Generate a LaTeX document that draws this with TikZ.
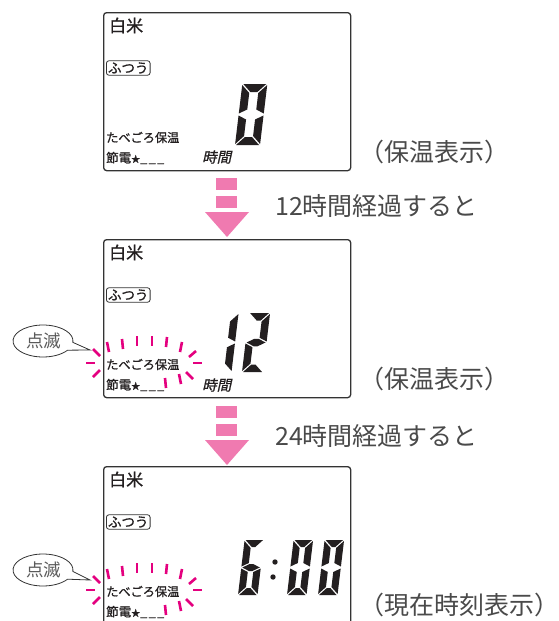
\documentclass[tikz,border=0pt]{standalone}
\usepackage{fontspec}
\setmainfont{Noto Sans CJK JP}
\newfontfamily\jplcd[FakeBold=0.9]{Noto Sans CJK JP}
\newfontfamily\jpslant[FakeSlant=0.22,FakeBold=0.9]{Noto Sans CJK JP}
\definecolor{lcdink}{HTML}{231F20}
\definecolor{lcdline}{HTML}{333333}
\definecolor{arrowpink}{RGB}{240,122,176}
\definecolor{blinkpink}{HTML}{E4007F}
\definecolor{outgray}{HTML}{4A4A4A}
\definecolor{bubbletext}{HTML}{5A5A5A}
% seven-segment pieces (local coordinates, y upward)
\newcommand\lcdsega{\fill[lcdink] ({\dG},{\dH}) -- ({\dW-\dG},{\dH}) -- ({\dW-\dT-\dG},{\dH-\dT}) -- ({\dT+\dG},{\dH-\dT}) -- cycle;}
\newcommand\lcdsegd{\fill[lcdink] ({\dG},0) -- ({\dW-\dG},0) -- ({\dW-\dT-\dG},{\dT}) -- ({\dT+\dG},{\dT}) -- cycle;}
\newcommand\lcdsegf{\fill[lcdink] (0,{\dH-\dG}) -- ({\dT},{\dH-\dT-\dG}) -- ({\dT},{\dH/2+\dT/2+\dG}) -- (0,{\dH/2+\dG}) -- cycle;}
\newcommand\lcdsege{\fill[lcdink] (0,{\dH/2-\dG}) -- ({\dT},{\dH/2-\dT/2-\dG}) -- ({\dT},{\dT+\dG}) -- (0,{\dG}) -- cycle;}
\newcommand\lcdsegb{\fill[lcdink] ({\dW},{\dH-\dG}) -- ({\dW-\dT},{\dH-\dT-\dG}) -- ({\dW-\dT},{\dH/2+\dT/2+\dG}) -- ({\dW},{\dH/2+\dG}) -- cycle;}
\newcommand\lcdsegc{\fill[lcdink] ({\dW},{\dH/2-\dG}) -- ({\dW-\dT},{\dH/2-\dT/2-\dG}) -- ({\dW-\dT},{\dT+\dG}) -- ({\dW},{\dG}) -- cycle;}
\newcommand\lcdsegg{\fill[lcdink] ({\dG},{\dH/2}) -- ({\dT+\dG},{\dH/2+\dT/2}) -- ({\dW-\dT-\dG},{\dH/2+\dT/2}) -- ({\dW-\dG},{\dH/2}) -- ({\dW-\dT-\dG},{\dH/2-\dT/2}) -- ({\dT+\dG},{\dH/2-\dT/2}) -- cycle;}
% #1 x, #2 y of bottom-left, #3 width, #4 height, #5 thickness, #6 segments
\newcommand\lcddigit[6]{%
  \begin{scope}[shift={(#1,#2)},x=1pt,y=1pt,xslant=0.12]
    \pgfmathsetmacro\dW{#3}\pgfmathsetmacro\dH{#4}\pgfmathsetmacro\dT{#5}\def\dG{1.0}
    \foreach \sg in {#6}{\csname lcdseg\sg\endcsname}
  \end{scope}}
% LCD panel: #1 top y, #2 name suffix
\newcommand\lcdpanel[2]{%
  \node[lcdbox,minimum width=247pt,minimum height=158pt,anchor=north west] (box#2) at (103,#1) {};
  \node[lcdtxt,font=\jplcd\fontsize{17}{17}\selectfont] (rice#2) at (109,#1+13.5) {白米};
  \node[lcdtxt,draw=lcdline,line width=0.8pt,rounded corners=2.5pt,inner sep=1.6pt,font=\jplcd\fontsize{13.5}{13.5}\selectfont] (futsu#2) at (106,#1+56) {ふつう};
}
\newcommand\lcdlower[2]{%
  \node[lcdtxt,font=\jplcd\fontsize{12.2}{12.2}\selectfont] (keep#2) at (106,#1+125.5) {たべごろ保温};
  \node[lcdtxt,font=\jplcd\fontsize{12.5}{12.5}\selectfont] (eco#2) at (106,#1+146) {節電{\fontsize{9}{9}\selectfont ★}\_\kern1.5pt\_\kern1.5pt\_};
}
\newcommand\blinkrays[1]{%
  \foreach \xa/\ya/\xb/\yb in {93/110/100/117, 86/124/95/124, 93/138/100/131,
     107/103/109/113, 122/100/123/110, 137/97/137/107, 152/97/152/107,
     167/98/166/108, 182/103/180/113, 196/112/189/118, 193/124/202/124,
     186/133/193/140, 179/135/181/145, 165/139/166/149}
    {\draw[blink] (\xa,#1+\ya) -- (\xb,#1+\yb);}
}
\newcommand\bubblebox[3]{% #1 center y, #2 tip y, #3 name
  \draw[bubble] (90,#2) -- (72.9,#1+1.4) arc[start angle=5,end angle=-325,x radius=30,y radius=16] -- cycle;
  \node[inner sep=0pt,text=bubbletext,font=\fontsize{17.5}{17.5}\selectfont] (#3) at (44,#1) {点滅};
}
\newcommand\pinkarrow[1]{% #1 top y
  \fill[arrowpink] (216,#1) rectangle (237,#1+12);
  \fill[arrowpink] (216,#1+18) rectangle (237,#1+29.5);
  \fill[arrowpink] (205,#1+34) -- (249,#1+34) -- (227,#1+59) -- cycle;
}
\begin{document}
\begin{tikzpicture}[x=1pt,y=-1pt,
  lcdbox/.style={draw=lcdline,line width=1.3pt,rounded corners=3pt,fill=white,inner sep=0pt},
  lcdtxt/.style={inner sep=0pt,anchor=west,text=lcdink},
  outtxt/.style={inner sep=0pt,anchor=west,text=outgray,font=\fontsize{25}{25}\selectfont},
  blink/.style={draw=blinkpink,line width=2.6pt},
  bubble/.style={draw=lcdline,line width=0.8pt,fill=white}]
\fill[white] (0,0) rectangle (558,621);
\useasboundingbox (0,0) rectangle (558,621);
\clip (0,0) rectangle (558,621);

% ---------- panel 1 ----------
\lcdpanel{12}{A}
\lcdlower{12}{A}
\node[lcdtxt,font=\jpslant\fontsize{14.5}{14.5}\selectfont] (hrsA) at (202,157) {時間};
\lcddigit{235}{145}{25}{61}{8}{a,b,c,d,e,f}
\node[outtxt] (stateA) at (359,152) {（保温表示）};

\pinkarrow{178}
\node[outtxt] (stepA) at (275,206) {12時間経過すると};

% ---------- panel 2 ----------
\lcdpanel{239}{B}
\blinkrays{239}
\lcdlower{239}{B}
\node[lcdtxt,font=\jpslant\fontsize{14.5}{14.5}\selectfont] (hrsB) at (202,385) {時間};
\lcddigit{224}{372}{7.5}{59}{7.5}{b,c}
\lcddigit{242}{372}{21}{59}{7.5}{a,b,g,e,d}
\bubblebox{341}{350}{blinkB}
\node[outtxt] (stateB) at (359,379) {（保温表示）};

\pinkarrow{406}
\node[outtxt] (stepB) at (275,436) {24時間経過すると};

% ---------- panel 3 ----------
\lcdpanel{466}{C}
\blinkrays{466}
\lcdlower{466}{C}
\lcddigit{238}{595}{19.5}{55}{7}{a,f,g,e,d,c}
\fill[lcdink] (275,562) circle[radius=2.7];
\fill[lcdink] (273,577) circle[radius=2.7];
\lcddigit{287}{595}{19.5}{55}{7}{a,b,c,d,e,f}
\lcddigit{318}{595}{19.5}{55}{7}{a,b,c,d,e,f}
\bubblebox{570}{580}{blinkC}
\node[outtxt] (stateC) at (359,605) {（現在時刻表示）};
\end{tikzpicture}
\end{document}
